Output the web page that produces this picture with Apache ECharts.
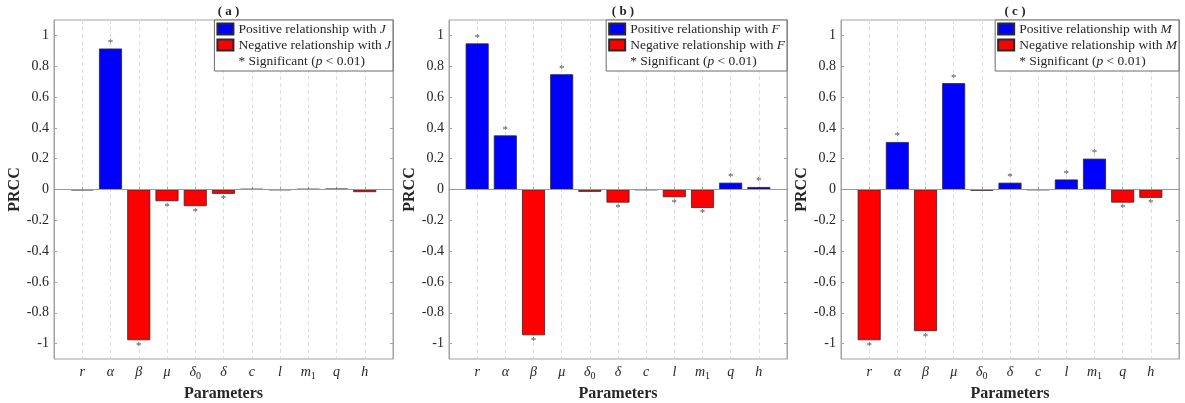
<!DOCTYPE html>
<html>
<head>
<meta charset="utf-8">
<script src="https://cdn.jsdelivr.net/npm/echarts@6/dist/echarts.min.js"></script>
<style>
  html, body { margin: 0; padding: 0; background: #fff; }
  #chart { width: 1185px; height: 403px; }
</style>
</head>
<body>
<div id="chart"></div>
<script>
// parameter names (rich text keys for italic / subscripts)
const params = ['r', 'α', 'β', 'μ', 'δ0', 'δ', 'c', 'l', 'm1', 'q', 'h']
const yTicks = [-1, -0.8, -0.6, -0.4, -0.2, 0, 0.2, 0.4, 0.6, 0.8, 1]

// PRCC values
const prccJ = [-0.005, 0.915, -0.978, -0.076, -0.108, -0.028, 0.003, -0.003, 0.003, 0.005, -0.017]
const prccF = [0.948, 0.351, -0.946, 0.748, -0.015, -0.085, -0.003, -0.05, -0.12, 0.044, 0.016]
const prccM = [-0.978, 0.308, -0.919, 0.69, -0.008, 0.044, -0.003, 0.065, 0.2, -0.085, -0.054]

// significance flags (p < 0.01)
const sigJ = [0, 1, 1, 1, 1, 1, 0, 0, 0, 0, 0]
const sigF = [1, 1, 1, 1, 0, 1, 0, 1, 1, 1, 1]
const sigM = [1, 1, 1, 1, 0, 1, 0, 1, 1, 1, 1]

const panels = [
  { title: '( a )', v: 'J', data: prccJ, sig: sigJ, left: 54, right: 792 },
  { title: '( b )', v: 'F', data: prccF, sig: sigF, left: 449, right: 398 },
  { title: '( c )', v: 'M', data: prccM, sig: sigM, left: 841, right: 6 }
]

const serif = 'Liberation Serif'
const txt = '#262626'
const axisGray = '#a3a3a3'

function paramLabel(v) {
  const p = params[v - 1]
  if (!p) return ''
  if (p.length === 2) return '{it|' + p[0] + '}{sb|' + p[1] + '}'
  return '{it|' + p + '}'
}

const chart = echarts.init(document.getElementById('chart'))

const grid = [], xAxis = [], yAxis = [], series = [], title = [], legend = []

panels.forEach((p, gi) => {
  const w = 1185 - p.left - p.right
  grid.push({
    left: p.left, right: p.right, top: 20, bottom: 44,
    outerBoundsMode: 'none',
    show: true, borderColor: axisGray, borderWidth: 1, backgroundColor: '#fff'
  })
  title.push({
    text: p.title,
    left: p.left + w / 2, top: 0, textAlign: 'center',
    textStyle: { fontFamily: serif, fontWeight: 'bold', fontSize: 13, color: txt }
  })
  xAxis.push({
    type: 'value', gridIndex: gi, min: 0, max: 12, interval: 1,
    name: 'Parameters', nameLocation: 'middle', nameGap: 19,
    nameTextStyle: { fontFamily: serif, fontWeight: 'bold', fontSize: 16, color: txt },
    axisLine: { lineStyle: { color: axisGray } },
    axisTick: { inside: true, length: 3, lineStyle: { color: axisGray } },
    splitLine: { show: true, lineStyle: { color: '#dedede', type: [4, 3] } },
    axisLabel: {
      margin: 4, formatter: paramLabel,
      rich: {
        it: { fontFamily: serif, fontStyle: 'italic', fontSize: 14, color: txt, lineHeight: 18 },
        sb: { fontFamily: serif, fontSize: 10, color: txt, verticalAlign: 'bottom', lineHeight: 12 }
      }
    }
  })
  yAxis.push({
    type: 'value', gridIndex: gi, min: -1.1, max: 1.1,
    name: 'PRCC', nameLocation: 'middle', nameGap: 28,
    nameTextStyle: { fontFamily: serif, fontWeight: 'bold', fontSize: 16, color: txt },
    axisLine: { show: true, lineStyle: { color: axisGray } },
    axisTick: { show: true, inside: true, length: 3, customValues: yTicks, lineStyle: { color: axisGray } },
    splitLine: { show: false },
    axisLabel: {
      customValues: yTicks, margin: 5,
      fontFamily: serif, fontSize: 14, color: txt,
      formatter: v => String(+v.toFixed(1))
    }
  })
  yAxis.push({
    type: 'value', gridIndex: gi, position: 'right', min: -1.1, max: 1.1,
    axisLine: { show: true, lineStyle: { color: axisGray } },
    axisTick: { show: true, inside: true, length: 3, customValues: yTicks, lineStyle: { color: axisGray } },
    axisLabel: { show: false }, splitLine: { show: false }
  })

  const posName = 'Positive relationship with ' + p.v
  const negName = 'Negative relationship with ' + p.v
  const sigName = 'sig' + gi
  const pos = [], neg = []
  p.data.forEach((v, i) => {
    const item = {
      value: [i + 1, v],
      label: { show: !!p.sig[i], position: v >= 0 ? 'top' : 'bottom' }
    }
    if (v >= 0) { pos.push(item); neg.push([i + 1, '-']) } else { neg.push(item); pos.push([i + 1, '-']) }
  })
  const common = {
    type: 'bar', xAxisIndex: gi, yAxisIndex: gi * 2, barWidth: 23,
    label: {
      formatter: '*', distance: 0, color: '#555', fontSize: 11, fontFamily: serif
    }
  }
  series.push(Object.assign({}, common, {
    name: posName, data: pos,
    itemStyle: { color: '#0000ff', borderColor: '#2a2a2a', borderWidth: 0.8 },
    markLine: {
      silent: true, symbol: 'none', label: { show: false },
      lineStyle: { color: '#9a9a9a', type: 'solid', width: 1 },
      data: [{ yAxis: 0 }], animation: false
    }
  }))
  series.push(Object.assign({}, common, {
    name: negName, data: neg, barGap: '-100%',
    itemStyle: { color: '#ff0000', borderColor: '#2a2a2a', borderWidth: 0.8 }
  }))
  series.push({ type: 'line', name: sigName, xAxisIndex: gi, yAxisIndex: gi * 2, data: [] })

  legend.push({
    orient: 'vertical', right: p.right, top: 20,
    backgroundColor: '#fff', borderColor: '#6a6a6a', borderWidth: 1,
    padding: [2, 2, 3, 2], itemGap: 2, itemWidth: 16, itemHeight: 11,
    selectedMode: false,
    data: [
      { name: posName, icon: 'rect' },
      { name: negName, icon: 'rect' },
      { name: sigName, icon: 'none' }
    ],
    formatter: n => {
      if (n === sigName) return '{n|* Significant (}{i|p}{n| < 0.01)}'
      return '{n|' + n.slice(0, -1) + '}{i|' + p.v + '}'
    },
    textStyle: {
      rich: {
        n: { fontFamily: serif, fontSize: 13.5, color: txt, lineHeight: 14 },
        i: { fontFamily: serif, fontSize: 13.5, fontStyle: 'italic', color: txt, lineHeight: 14 }
      }
    }
  })
})

chart.setOption({
  animation: false,
  backgroundColor: '#fff',
  title, grid, xAxis, yAxis, series, legend
})
</script>
</body>
</html>
